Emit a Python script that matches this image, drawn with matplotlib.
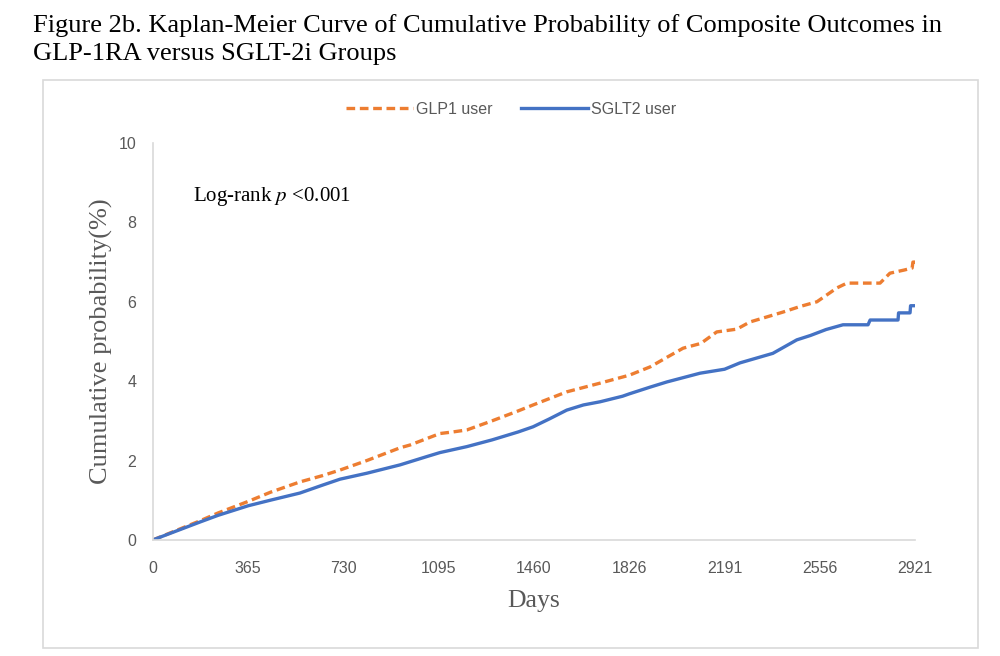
import matplotlib
matplotlib.use("Agg")
import matplotlib.pyplot as plt
from matplotlib.patches import Rectangle

plt.rcParams["mathtext.fontset"] = "stix"

# Kaplan-Meier cumulative probability (%)
glp1_days = [0, 60, 120, 180, 250, 365, 450, 563, 650, 717, 820, 947, 985,
             1100, 1150, 1203, 1300, 1400, 1457, 1586, 1714, 1826, 1906,
             1970, 2032, 2100, 2161, 2238, 2288, 2415, 2480, 2545, 2622,
             2660, 2787, 2825, 2880, 2910, 2913, 2921]
glp1_prob = [0, 0.16, 0.32, 0.48, 0.68, 0.97, 1.2, 1.46, 1.62, 1.76, 2.0,
             2.32, 2.39, 2.68, 2.72, 2.77, 3.0, 3.25, 3.4, 3.73, 3.95, 4.15,
             4.36, 4.6, 4.83, 4.95, 5.24, 5.31, 5.49, 5.74, 5.88, 6.0, 6.35,
             6.47, 6.47, 6.72, 6.8, 6.85, 7.0, 7.0]

sglt2_days = [0, 60, 120, 180, 250, 365, 450, 563, 650, 717, 820, 947, 1050,
              1100, 1203, 1300, 1400, 1457, 1520, 1586, 1650, 1714, 1800,
              1826, 1906, 1970, 2097, 2191, 2250, 2376, 2468, 2520, 2580,
              2645, 2741, 2749, 2856, 2858, 2902, 2904, 2921]
sglt2_prob = [0, 0.15, 0.3, 0.45, 0.62, 0.86, 1.0, 1.18, 1.38, 1.53, 1.68,
              1.89, 2.1, 2.2, 2.35, 2.52, 2.72, 2.85, 3.05, 3.27, 3.4, 3.48,
              3.62, 3.68, 3.85, 3.98, 4.2, 4.3, 4.46, 4.7, 5.04, 5.15, 5.3,
              5.42, 5.42, 5.54, 5.54, 5.72, 5.72, 5.9, 5.9]

x_ticks = [0, 365, 730, 1095, 1460, 1826, 2191, 2556, 2921]
y_ticks = [0, 2, 4, 6, 8, 10]

title_lines = [
    "Figure 2b. Kaplan-Meier Curve of Cumulative Probability of Composite Outcomes in",
    "GLP-1RA versus SGLT-2i Groups",
]

ORANGE = "#ED7D31"
BLUE = "#4472C4"
GREY = "#595959"
SANS = ["Liberation Sans Narrow", "Liberation Sans", "DejaVu Sans"]
SERIF = ["Liberation Serif", "DejaVu Serif"]

fig = plt.figure(figsize=(10, 6.56), dpi=100)
fig.add_artist(Rectangle((0.043, 0.012), 0.935, 0.866, transform=fig.transFigure,
                         fill=False, edgecolor="#d9d9d9", lw=1.2))

for i, line in enumerate(title_lines):
    fig.text(0.033, 1 - (32 + 28 * i) / 656, line, family=SERIF, fontsize=19,
             va="baseline", ha="left")

ax = fig.add_axes([0.153, 0.177, 0.762, 0.605])
ax.plot(glp1_days, glp1_prob, color=ORANGE, lw=2.4,
        dashes=(2.6, 1.4), label="GLP1 user")
ax.plot(sglt2_days, sglt2_prob, color=BLUE, lw=2.4, label="SGLT2 user")

ax.set_xlim(0, 2921)
ax.set_ylim(0, 10)
ax.set_xticks(x_ticks)
ax.set_yticks(y_ticks)
ax.tick_params(length=0, colors=GREY, labelsize=11.5)
ax.tick_params(axis="x", pad=15)
ax.tick_params(axis="y", pad=12)
for lab in ax.get_xticklabels() + ax.get_yticklabels():
    lab.set_family(SANS)
for side in ("top", "right"):
    ax.spines[side].set_visible(False)
for side in ("left", "bottom"):
    ax.spines[side].set_color("#d9d9d9")
    ax.spines[side].set_linewidth(1.2)

ax.set_xlabel("Days", family=SERIF, fontsize=18.5, color=GREY, labelpad=10)
ax.set_ylabel("Cumulative probability(%)", family=SERIF, fontsize=19,
              color=GREY, labelpad=4)

ax.text(0.052, 0.865, "Log-rank $\\mathit{p}$ <0.001", transform=ax.transAxes,
        family=SERIF, fontsize=15, color="black", va="center")

leg = ax.legend(loc="center", bbox_to_anchor=(0.47, 1.085), ncol=2, frameon=False,
                prop={"family": SANS, "size": 11.5}, handlelength=4.2,
                handletextpad=0.2, columnspacing=1.8)
for t in leg.get_texts():
    t.set_color(GREY)

fig.savefig("out.png", dpi=100)
